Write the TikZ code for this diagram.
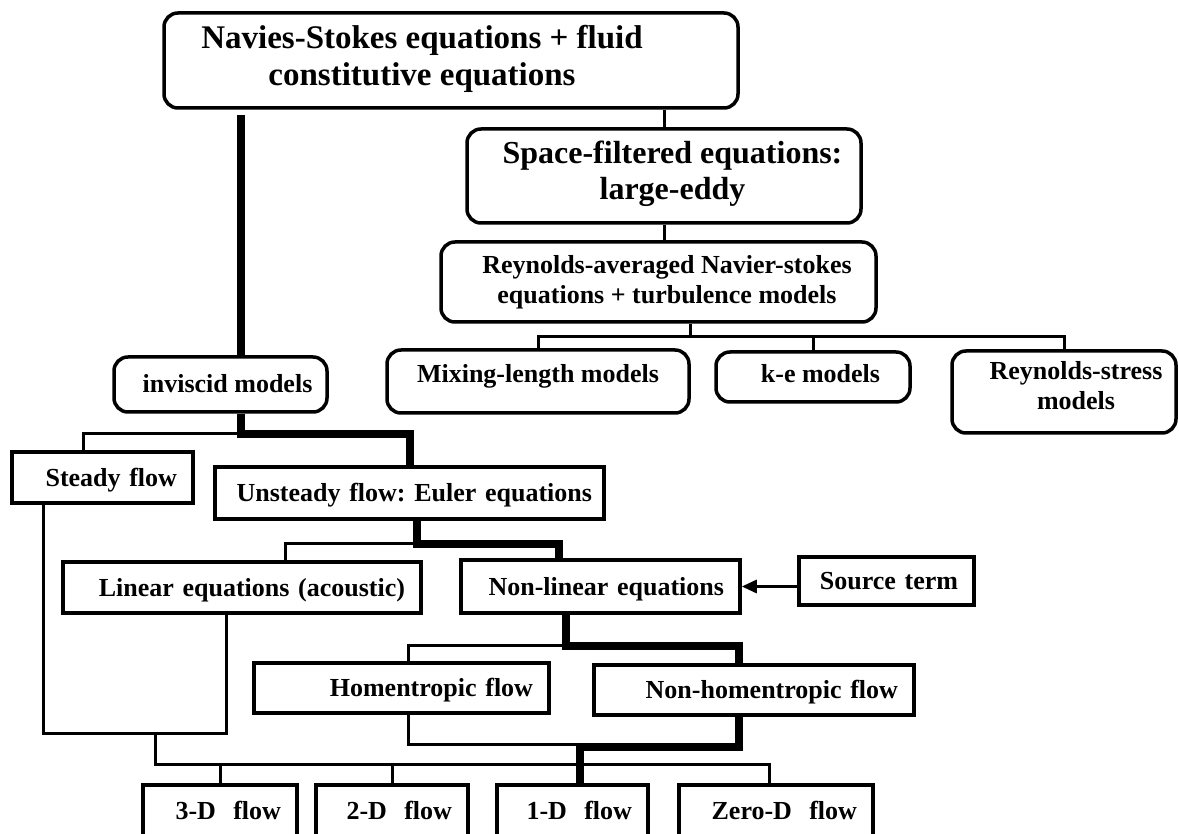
\documentclass[tikz,border=0pt]{standalone}
\usepackage{fontspec}
\setmainfont{Liberation Serif}
\usetikzlibrary{arrows.meta}
\frenchspacing

\begin{document}
\begin{tikzpicture}[x=1pt,y=-1pt,
  flatbox/.style={draw,line width=3.5pt,align=right,inner xsep=16pt,inner ysep=0pt,
    text height=22pt,text depth=5pt,font=\bfseries\fontsize{26}{30}\selectfont},
  roundbox/.style={draw,line width=3.5pt,rounded corners=14pt},
  boxtext/.style={align=center,inner sep=0pt,font=\bfseries\fontsize{26}{30}\selectfont},
  bigtext/.style={boxtext,font=\bfseries\fontsize{33}{37}\selectfont},
  link/.style={line width=3pt},
  heavy/.style={line width=8pt}]
\useasboundingbox (0,0) rectangle (1179,834);
% Rounded boxes
\node[roundbox,minimum width=574pt,minimum height=95pt,
  label={[bigtext,xshift=-29pt,yshift=2pt]center:{Navies-Stokes equations + fluid\\constitutive equations}}] (ns) at (451,60.5) {};
\node[roundbox,minimum width=394pt,minimum height=94pt,
  label={[bigtext,font=\bfseries\fontsize{32}{36}\selectfont,xshift=8.5pt,yshift=2pt]center:{Space-filtered equations:\\large-eddy}}] (sf) at (664,176) {};
\node[roundbox,minimum width=435pt,minimum height=80pt,
  label={[boxtext,xshift=8.5pt]center:{Reynolds-averaged Navier-stokes\\equations + turbulence models}}] (rans) at (658.5,282) {};
\node[roundbox,minimum width=302pt,minimum height=63pt,
  label={[boxtext,yshift=5.5pt]center:{Mixing-length models}}] (mix) at (538,381.5) {};
\node[roundbox,minimum width=194pt,minimum height=50pt,
  label={[boxtext,xshift=7.5pt,yshift=3pt]center:{k-e models}}] (ke) at (813,377) {};
\node[roundbox,minimum width=224pt,minimum height=82pt,
  label={[boxtext,xshift=12pt,yshift=6pt]center:{Reynolds-stress\\models}}] (rey) at (1064,392) {};
\node[roundbox,minimum width=213pt,minimum height=55pt,
  label={[boxtext,xshift=7pt,yshift=1pt]center:{inviscid models}}] (inv) at (220.5,384.5) {};
% Flat boxes
\node[flatbox,text width=149pt,minimum height=51pt] (stdy) at (102.5,477.5) {Steady flow};
\node[flatbox,inner xsep=12pt,text width=365pt,minimum height=52pt] (unst) at (409.5,493) {Unsteady flow: Euler equations};
\node[flatbox,text width=326pt,minimum height=51pt] (lin) at (242,587.5) {Linear equations (acoustic)};
\node[flatbox,text width=247pt,minimum height=53pt] (nl) at (600.5,586.5) {Non-linear equations};
\node[flatbox,text width=143pt,minimum height=48pt] (src) at (886.5,581) {Source term};
\node[flatbox,text width=263pt,minimum height=50pt] (hom) at (401.5,688) {Homentropic flow};
\node[flatbox,text width=288pt,minimum height=50pt] (nhom) at (754,690) {Non-homentropic flow};
\node[flatbox,text width=122pt,minimum height=52pt] (d3) at (220,811) {3-D~~flow};
\node[flatbox,text width=120pt,minimum height=52pt] (d2) at (392,811) {2-D~~flow};
\node[flatbox,text width=119pt,minimum height=52pt] (d1) at (572.5,811) {1-D~~flow};
\node[flatbox,text width=162pt,minimum height=52pt] (d0) at (776,811) {Zero-D~~flow};
% Upper connectors
\draw[heavy,shorten >=5pt] ([xshift=20.5pt]inv.north) -- ([xshift=20.5pt]inv.north |- ns.south);
\draw[link] (sf.north) -- (sf.north |- ns.south);
\draw[link] (sf.south) -- (rans.north -| sf.south);
\coordinate (mbus) at (0,337);
\draw[link] ([xshift=31.5pt]rans.south) -- ([xshift=31.5pt]rans.south |- mbus);
\draw[link] (mix.north) |- (mbus -| rey.north) -- (rey.north);
\draw[link] (ke.north) -- (ke.north |- mbus);
% Inviscid branch
\draw[heavy] ([xshift=20.5pt]inv.south) -- ++(0,20) coordinate (j1) -| (unst.north);
\draw[link] (j1) -| ([xshift=-19.5pt]stdy.north);
\draw[heavy] ([xshift=7.5pt]unst.south) -- ++(0,23) coordinate (j2) -| ([xshift=-41.5pt]nl.north);
\draw[link] (j2) -| ([xshift=43pt]lin.north);
\draw[link,-{Triangle[length=15pt,width=13pt]}] (nl.east -| src.west) -- (nl.east);
\draw[heavy] ([xshift=-34.5pt]nl.south) -- ++(0,31) coordinate (j3) -| ([xshift=-15pt]nhom.north);
\draw[link] (j3) -| ([xshift=6.5pt]hom.north);
% Down to the flow dimensions
\draw[link] ([xshift=6.5pt]hom.south) |- ([xshift=-15pt]nhom.south |- 0,744);
\draw[heavy] ([xshift=-15pt]nhom.south) -- ++(0,30) coordinate (j4) -| ([xshift=7.5pt]d1.north);
\coordinate (j5) at (155,733);
\coordinate (j6) at (155,764);
\draw[link] ([xshift=-59.5pt]stdy.south) |- ([xshift=-16pt]lin.south |- j5) -- ([xshift=-16pt]lin.south);
\draw[link] (j5) -- (j6) -| ([xshift=-7pt]d0.north);
\draw[link] (d3.north) -- (d3.north |- j6);
\draw[link] (d2.north) -- (d2.north |- j6);
\end{tikzpicture}
\end{document}
